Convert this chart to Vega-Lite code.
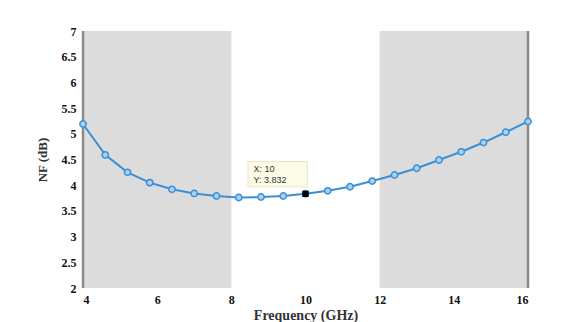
{
  "$schema": "https://vega.github.io/schema/vega-lite/v6.json",
  "autosize": "none",
  "width": 445,
  "height": 257,
  "padding": {"left": 83, "top": 31, "right": 49, "bottom": 34},
  "background": "white",
  "config": {
    "view": {"stroke": null},
    "font": "Liberation Serif",
    "axis": {"grid": false, "ticks": false, "domain": false, "labelFont": "Liberation Serif", "labelFontWeight": "bold", "labelFontSize": 12, "labelColor": "#111", "titleFont": "Liberation Serif", "titleFontWeight": "bold", "titleColor": "#333"}
  },
  "datasets": {
    "bands": [{"x1": 4, "x2": 8, "y1": 2, "y2": 7}, {"x1": 12, "x2": 16, "y1": 2, "y2": 7}],
    "nf": [
      {"f": 4.0, "nf": 5.19},
      {"f": 4.6, "nf": 4.59},
      {"f": 5.2, "nf": 4.25},
      {"f": 5.8, "nf": 4.05},
      {"f": 6.4, "nf": 3.92},
      {"f": 7.0, "nf": 3.84},
      {"f": 7.6, "nf": 3.79},
      {"f": 8.2, "nf": 3.76},
      {"f": 8.8, "nf": 3.77},
      {"f": 9.4, "nf": 3.79},
      {"f": 10.0, "nf": 3.832},
      {"f": 10.6, "nf": 3.89},
      {"f": 11.2, "nf": 3.97},
      {"f": 11.8, "nf": 4.08},
      {"f": 12.4, "nf": 4.2},
      {"f": 13.0, "nf": 4.33},
      {"f": 13.6, "nf": 4.49},
      {"f": 14.2, "nf": 4.65},
      {"f": 14.8, "nf": 4.83},
      {"f": 15.4, "nf": 5.03},
      {"f": 16.0, "nf": 5.24}
    ],
    "tip": [{"x1": 8.45, "x2": 10.05, "y1": 3.97, "y2": 4.46}],
    "tiptext": [
      {"x": 8.6, "y": 4.31, "t": "X: 10"},
      {"x": 8.6, "y": 4.1, "t": "Y: 3.832"}
    ],
    "sel": [{"f": 10, "nf": 3.832}]
  },
  "layer": [
    {
      "data": {"name": "bands"},
      "mark": {"type": "rect", "color": "#dcdcdc"},
      "encoding": {
        "x": {"field": "x1", "type": "quantitative", "scale": {"domain": [4, 16], "nice": false}, "axis": {"title": "Frequency (GHz)", "tickCount": 6, "labelPadding": 6, "titleFontSize": 14, "titlePadding": 3}},
        "x2": {"field": "x2"},
        "y": {"field": "y1", "type": "quantitative", "scale": {"domain": [2, 7], "nice": false}, "axis": {"title": "NF (dB)", "tickCount": 10, "labelOverlap": false, "format": ".1~f", "labelPadding": 7, "titleFontSize": 13, "titlePadding": 12}},
        "y2": {"field": "y2"}
      }
    },
    {
      "data": {"values": [{"x": 4, "y1": 2, "y2": 7}, {"x": 16, "y1": 2, "y2": 7}]},
      "mark": {"type": "rule", "color": "#8a8a8a", "strokeWidth": 2.5},
      "encoding": {"x": {"field": "x", "type": "quantitative"}, "y": {"field": "y1", "type": "quantitative"}, "y2": {"field": "y2"}}
    },
    {
      "data": {"name": "nf"},
      "mark": {"type": "line", "color": "#3a8fd6", "strokeWidth": 2},
      "encoding": {"x": {"field": "f", "type": "quantitative"}, "y": {"field": "nf", "type": "quantitative"}}
    },
    {
      "data": {"name": "nf"},
      "mark": {"type": "point", "shape": "circle", "size": 40, "filled": true, "fill": "#a9d2f2", "stroke": "#3a8fd6", "strokeWidth": 1.5, "opacity": 1},
      "encoding": {"x": {"field": "f", "type": "quantitative"}, "y": {"field": "nf", "type": "quantitative"}}
    },
    {
      "data": {"name": "sel"},
      "mark": {"type": "square", "color": "#000", "size": 40, "opacity": 1},
      "encoding": {"x": {"field": "f", "type": "quantitative"}, "y": {"field": "nf", "type": "quantitative"}}
    },
    {
      "data": {"name": "tip"},
      "mark": {"type": "rect", "fill": "#fbfbe6", "stroke": "#e6e6c8", "strokeWidth": 1},
      "encoding": {"x": {"field": "x1", "type": "quantitative"}, "x2": {"field": "x2"}, "y": {"field": "y1", "type": "quantitative"}, "y2": {"field": "y2"}}
    },
    {
      "data": {"name": "tiptext"},
      "mark": {"type": "text", "align": "left", "baseline": "middle", "font": "Liberation Sans", "fontSize": 9, "color": "#333"},
      "encoding": {"x": {"field": "x", "type": "quantitative"}, "y": {"field": "y", "type": "quantitative"}, "text": {"field": "t"}}
    }
  ]
}
